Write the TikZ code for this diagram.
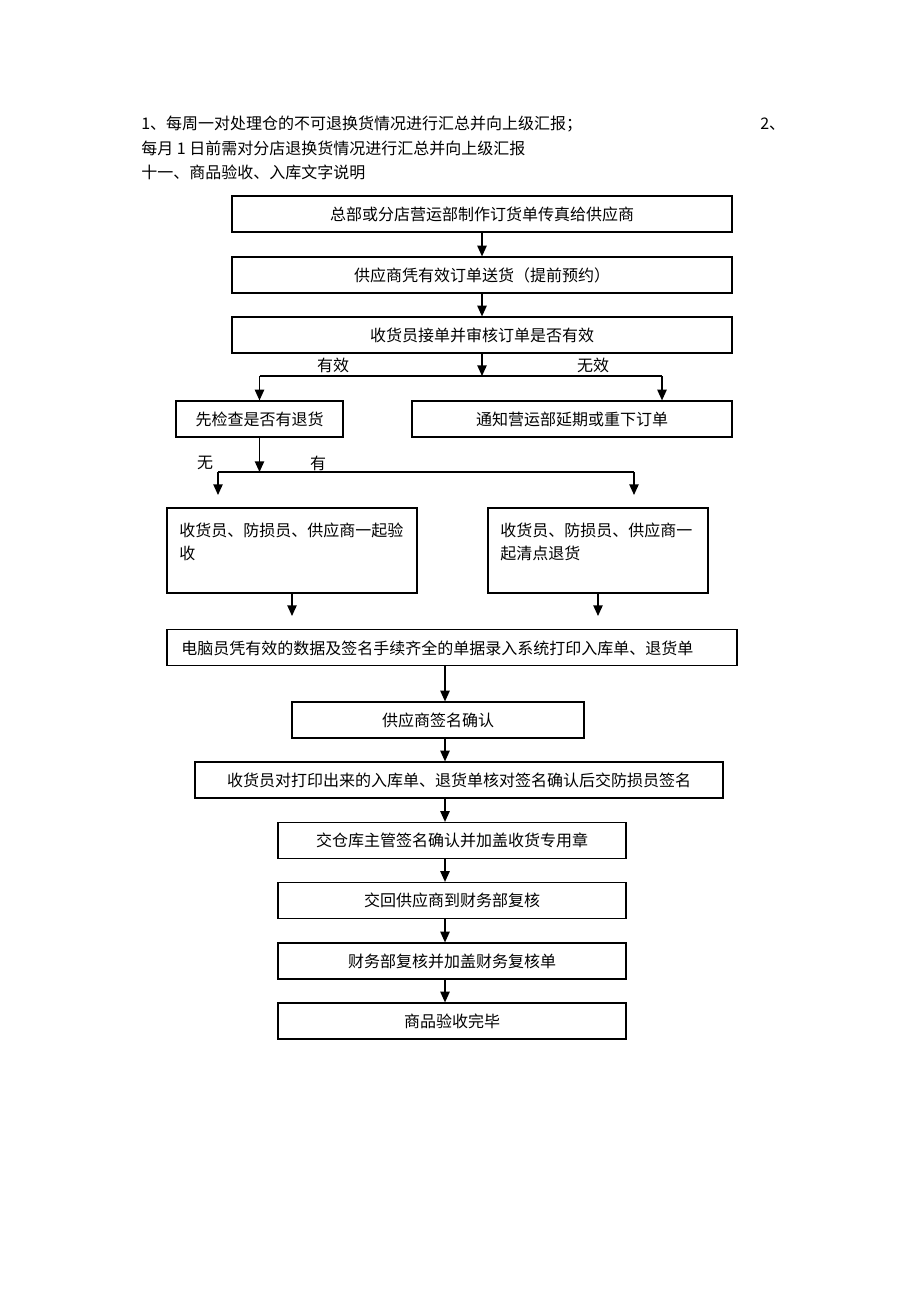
\documentclass[tikz,border=0pt]{standalone}
\usepackage{fontspec}
\setmainfont{Noto Sans CJK SC}
\usetikzlibrary{arrows.meta}
\tikzset{
  box/.style={draw=black, line width=0.9pt, rectangle, inner sep=0pt},
  sz/.style 2 args={minimum width={#1*0.75pt}, minimum height={#2*0.75pt}},
  lbl/.style={inner sep=0pt, font=\fontsize{12pt}{14pt}\selectfont},
  ln/.style={draw=black, line width=1pt},
  arr/.style={ln, -{Triangle[length=8pt, width=7pt]}}
}
\begin{document}
\begin{tikzpicture}[x=0.75pt, y=-0.75pt, font=\fontsize{12pt}{14pt}\selectfont]
\useasboundingbox (0,0) rectangle (920,1302);
% header text
\node[lbl, anchor=west] (t1) at (141,124) {1、每周一对处理仓的不可退换货情况进行汇总并向上级汇报；};
\node[lbl, anchor=west] (t2) at (760,124) {2、};
\node[lbl, anchor=west] (t3) at (141,148) {每月 1 日前需对分店退换货情况进行汇总并向上级汇报};
\node[lbl, anchor=west] (t4) at (141,172) {十一、商品验收、入库文字说明};
% boxes
\node[box, sz={500}{36}] (b1) at (482,214) {总部或分店营运部制作订货单传真给供应商};
\node[box, sz={500}{36}] (b2) at (482,275) {供应商凭有效订单送货（提前预约）};
\node[box, sz={500}{36}] (b3) at (482,335) {收货员接单并审核订单是否有效};
\node[box, sz={167}{36}] (b4) at (259.5,419) {先检查是否有退货};
\node[box, sz={320}{36}] (b5) at (572,419) {通知营运部延期或重下订单};
\node[box, sz={250}{85}] (b6) at (292,550.5) {};
\node[lbl, anchor=west] (b6a) at (179,530) {收货员、防损员、供应商一起验};
\node[lbl, anchor=west] (b6b) at (179,553) {收};
\node[box, sz={220}{85}] (b7) at (598,550.5) {};
\node[lbl, anchor=west] (b7a) at (500,530) {收货员、防损员、供应商一};
\node[lbl, anchor=west] (b7b) at (500,553) {起清点退货};
\node[box, sz={570}{36}] (b8) at (452,647.5) {};
\node[lbl, anchor=west] (b8a) at (181,648) {电脑员凭有效的数据及签名手续齐全的单据录入系统打印入库单、退货单};
\node[box, sz={292}{36}] (b9) at (438,720) {供应商签名确认};
\node[box, sz={528}{36}] (b10) at (459,780) {收货员对打印出来的入库单、退货单核对签名确认后交防损员签名};
\node[box, sz={348}{36}] (b11) at (452,840.5) {交仓库主管签名确认并加盖收货专用章};
\node[box, sz={348}{36}] (b12) at (452,900.5) {交回供应商到财务部复核};
\node[box, sz={348}{36}] (b13) at (452,961) {财务部复核并加盖财务复核单};
\node[box, sz={348}{36}] (b14) at (452,1021) {商品验收完毕};
% branch labels
\node[lbl] (l1) at (333,365) {有效};
\node[lbl] (l2) at (593,365) {无效};
\node[lbl] (l3) at (205,463) {无};
\node[lbl] (l4) at (318,463) {有};
% junction coordinates
\coordinate (j1) at (482,376);
\coordinate (j1l) at (259.5,376);
\coordinate (j1r) at (662,376);
\coordinate (j2) at (259.5,472);
\coordinate (j2l) at (218,472);
\coordinate (j2r) at (634,472);
\coordinate (e2l) at (218,495);
\coordinate (e2r) at (634,495);
\coordinate (s6) at (292,593);
\coordinate (e6) at (292,616);
\coordinate (s7) at (598,593);
\coordinate (e7) at (598,616);
\coordinate (cx) at (445,0);
% connectors
\draw[arr] (b1) -- (b2);
\draw[arr] (b2) -- (b3);
\draw[arr] (b3) -- (j1);
\draw[ln] (j1l) -- (j1r);
\draw[arr] (j1l) -- (b4);
\draw[arr] (j1r) -- (j1r |- b5.north);
\draw[arr] (b4) -- (j2);
\draw[ln] (j2l) -- (j2r);
\draw[arr] (j2l) -- (e2l);
\draw[arr] (j2r) -- (e2r);
\draw[arr] (s6) -- (e6);
\draw[arr] (s7) -- (e7);
\draw[arr] (b8.south -| cx) -- (b9.north -| cx);
\draw[arr] (b9.south -| cx) -- (b10.north -| cx);
\draw[arr] (b10.south -| cx) -- (b11.north -| cx);
\draw[arr] (b11.south -| cx) -- (b12.north -| cx);
\draw[arr] (b12.south -| cx) -- (b13.north -| cx);
\draw[arr] (b13.south -| cx) -- (b14.north -| cx);
\end{tikzpicture}
\end{document}
